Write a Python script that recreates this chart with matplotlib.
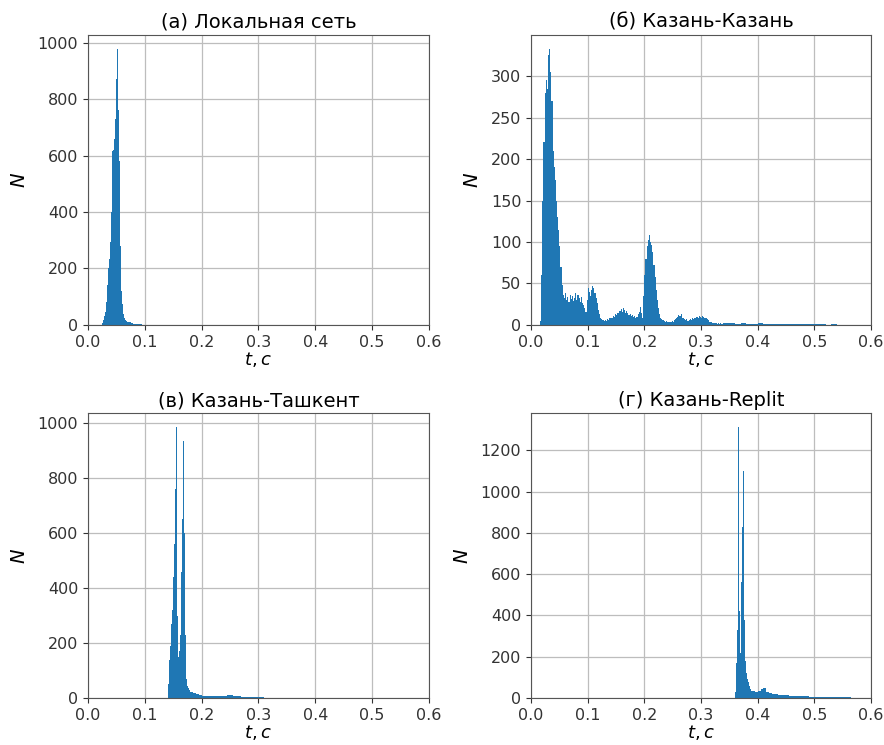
import numpy as np
import matplotlib
matplotlib.use("Agg")
import matplotlib.pyplot as plt

# ---------------- data (bin counts) ----------------
titles = ["(а) Локальная сеть", "(б) Казань-Казань", "(в) Казань-Ташкент", "(г) Казань-Replit"]
x_ticks = [0.0, 0.1, 0.2, 0.3, 0.4, 0.5, 0.6]

# (а) fine part: start 0.024, width 0.001; tail width 0.005
a_start, a_w, a_tail_w = 0.024, 0.001, 0.005
a_counts = [3, 6, 10, 16, 24, 32, 45, 60, 80, 105,
            140, 170, 200, 235, 260, 295, 330, 400, 580, 615,
            620, 640, 660, 690, 730, 800, 870, 978, 830, 760,
            680, 580, 420, 280, 190, 120, 75, 50, 38, 30,
            24, 20, 17, 15, 13, 12]
a_tail = [10, 7, 5, 3, 2, 1]

# (б) fine part: start 0.016, width 0.002; tail width 0.01
b_start, b_w, b_tail_w = 0.016, 0.002, 0.01
b_counts = [5, 60, 150, 220, 280, 295, 285, 325, 333, 305,
            270, 210, 190, 175, 150, 130, 115, 95, 70, 48,
            36, 32, 38, 30, 34, 28, 36, 31, 35, 29,
            33, 38, 30, 36, 32, 28, 34, 26, 24, 20,
            16, 30, 44, 40, 35, 42, 47, 44, 38, 33,
            26, 18, 13, 9, 7, 6, 5, 6, 5, 7,
            6, 8, 9, 8, 11, 10, 13, 12, 15, 14,
            17, 19, 16, 20, 18, 15, 17, 14, 12, 13,
            11, 12, 10, 11, 9, 10, 13, 16, 22, 15,
            8, 35, 60, 80, 95, 103, 108, 100, 96, 88,
            72, 58, 42, 30, 20, 13, 9, 7, 6, 5,
            4, 5, 4, 3, 4, 3, 5, 4, 6, 7,
            9, 10, 12, 11, 13, 9, 8, 7, 6, 7,
            5, 6, 7, 6, 8, 7, 9, 8, 10, 9,
            11, 10, 9, 11, 10, 8, 9, 7, 6, 4,
            3, 3, 2, 2, 2, 2, 1, 2, 1, 2,
            1, 2]
b_tail = [2, 2, 1, 2, 1, 1, 2, 1, 1, 1, 1, 1, 1,
          1, 1, 1, 1, 1, 0.5, 1, 0.5, 0.5, 0.5, 0.3, 0.3, 0.3]

# (в) fine part: start 0.140, width 0.001; tail width 0.005
c_start, c_w, c_tail_w = 0.140, 0.001, 0.005
c_counts = [15, 50, 100, 140, 170, 190, 220, 270, 320, 380,
            440, 500, 560, 700, 760, 988, 560, 300, 190, 150,
            130, 170, 230, 330, 460, 560, 650, 760, 934, 600,
            420, 230, 110, 70, 55, 45, 38, 32, 28, 25]
c_tail = [21, 17, 13, 11, 9, 8, 8, 7, 8, 7,
          7, 8, 9, 10, 11, 9, 7, 6, 5, 5,
          4, 5, 4, 4, 3, 3, 2, 2, 2, 1,
          1, 1, 1, 1, 0.5, 0.5]

# (г) fine part: start 0.360, width 0.001; tail width 0.005
d_start, d_w, d_tail_w = 0.360, 0.001, 0.005
d_counts = [30, 110, 170, 220, 330, 790, 1315, 420, 260, 220,
            300, 560, 700, 830, 1100, 680, 380, 250, 180, 145,
            120, 100, 90, 80, 68, 60, 52, 45, 40, 36]
d_tail = [32, 29, 32, 42, 48, 30, 24, 21, 19, 16,
          15, 14, 13, 12, 11, 10, 10, 9, 8, 8,
          7, 6, 6, 5, 5, 5, 4, 4, 4, 3,
          3, 3, 3, 3, 3, 2, 2, 2, 2, 2,
          2, 2]

panels = [
    (a_start, a_w, a_counts, a_tail_w, a_tail),
    (b_start, b_w, b_counts, b_tail_w, b_tail),
    (c_start, c_w, c_counts, c_tail_w, c_tail),
    (d_start, d_w, d_counts, d_tail_w, d_tail),
]

# ---------------- figure ----------------
plt.rcParams['font.family'] = ['DejaVu Sans']
plt.rcParams['font.size'] = 11.5
plt.rcParams['mathtext.fontset'] = 'dejavusans'

fig = plt.figure(figsize=(8.84, 7.45), dpi=100)
positions = [
    [0.0995, 0.5638, 0.3857, 0.3893],
    [0.6007, 0.5638, 0.3846, 0.3893],
    [0.0995, 0.0630, 0.3857, 0.3826],
    [0.6007, 0.0630, 0.3846, 0.3826],
]

color = '#1f77b4'
for pos, title, (t0, w, counts, tw, tail) in zip(positions, titles, panels):
    ax = fig.add_axes(pos)
    fine_edges = t0 + w * np.arange(len(counts) + 1)
    tail_edges = fine_edges[-1] + tw * np.arange(1, len(tail) + 1)
    edges = np.concatenate([fine_edges, tail_edges])
    weights = np.array(list(counts) + list(tail), dtype=float)
    ax.hist(edges[:-1], bins=edges, weights=weights, histtype='stepfilled',
            color=color, linewidth=0)
    ax.set_xlim(0, 0.6)
    ax.set_xticks(x_ticks)
    ax.set_xticklabels([f"{v:.1f}" for v in x_ticks])
    ax.grid(True, color='#bdbdbd', linewidth=0.9)
    ax.set_axisbelow(True)
    ax.set_title(title, fontsize=14, pad=5)
    ax.set_xlabel('$t, c$', fontsize=13, labelpad=0)
    ax.set_ylabel('$N$', fontsize=14, labelpad=6)
    for sp in ax.spines.values():
        sp.set_color('#555555')
    ax.tick_params(colors='#333333', labelcolor='#333333')

fig.savefig('out.png', dpi=100)
